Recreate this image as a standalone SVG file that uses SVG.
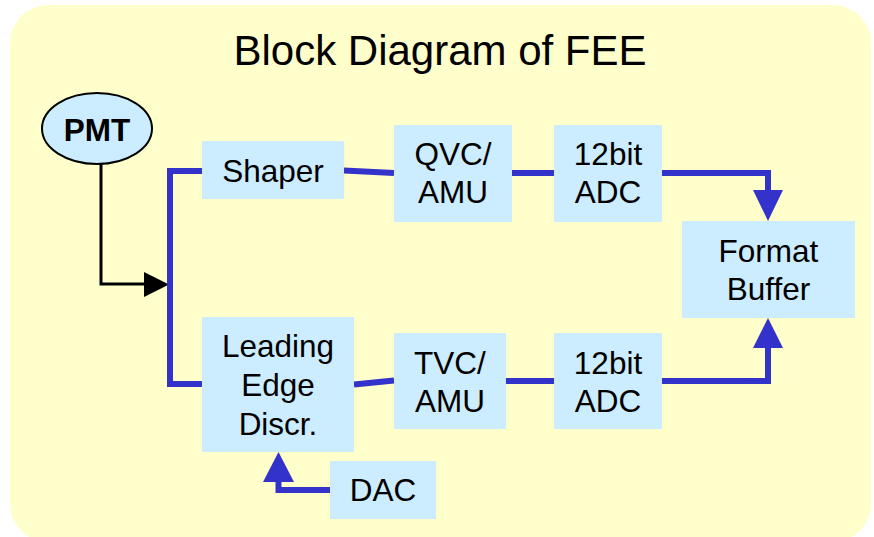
<svg xmlns="http://www.w3.org/2000/svg" width="874" height="537" viewBox="0 0 874 537">
<style>
  .box { fill: #CCECFF; stroke: none; }
  .lbl { font-family: "Liberation Sans", Arial, sans-serif; font-size: 31.5px; fill: #000; text-anchor: middle; }
  .title { font-family: "Liberation Sans", Arial, sans-serif; font-size: 42px; fill: #000; text-anchor: middle; }
  .bus { fill: none; stroke: #3333CC; stroke-width: 6; stroke-linejoin: miter; }
  .head { fill: #3333CC; stroke: none; }
  .blk { fill: none; stroke: #000; stroke-width: 3; }
</style>
<rect x="10" y="5" width="861" height="537" rx="38" ry="38" fill="#FFFFCC"/>
<text class="title" x="440" y="65">Block Diagram of FEE</text>

<g id="connectors">
  <path class="blk" d="M101,164 V284 H146"/>
  <polygon points="144,272 169,284.5 144,297" fill="#000"/>
  <path class="bus" d="M202,171 H170 V384 H202"/>
  <line class="bus" x1="344" y1="170.5" x2="394" y2="173"/>
  <line class="bus" x1="512" y1="173" x2="554" y2="173"/>
  <path class="bus" d="M662,173 H768 V192"/>
  <polygon class="head" points="753,190 783,190 768,221"/>
  <path class="bus" d="M662,381 H768 V346"/>
  <polygon class="head" points="753,348 783,348 768,318"/>
  <line class="bus" x1="354" y1="384.5" x2="394" y2="380.5"/>
  <line class="bus" x1="506" y1="381" x2="554" y2="381"/>
  <path class="bus" d="M330,490 H278.5 V480"/>
  <polygon class="head" points="263,482 294,482 278.5,452"/>
</g>

<g id="pmt">
  <ellipse cx="97" cy="128.5" rx="55" ry="35.5" fill="#CCECFF" stroke="#000" stroke-width="2"/>
  <text class="lbl" x="97" y="141" font-weight="bold">PMT</text>
</g>
<g id="shaper">
  <rect class="box" x="202" y="141" width="142" height="58"/>
  <text class="lbl" x="273" y="182">Shaper</text>
</g>
<g id="qvc">
  <rect class="box" x="394" y="125" width="118" height="97"/>
  <text class="lbl" x="453" y="165">QVC/</text>
  <text class="lbl" x="453" y="203">AMU</text>
</g>
<g id="adc-top">
  <rect class="box" x="554" y="125" width="108" height="97"/>
  <text class="lbl" x="608" y="165">12bit</text>
  <text class="lbl" x="608" y="203">ADC</text>
</g>
<g id="format-buffer">
  <rect class="box" x="682" y="221" width="173" height="97"/>
  <text class="lbl" x="768.5" y="262">Format</text>
  <text class="lbl" x="768.5" y="300">Buffer</text>
</g>
<g id="leading-edge">
  <rect class="box" x="202" y="317" width="152" height="135"/>
  <text class="lbl" x="278" y="357">Leading</text>
  <text class="lbl" x="278" y="396">Edge</text>
  <text class="lbl" x="278" y="435">Discr.</text>
</g>
<g id="tvc">
  <rect class="box" x="394" y="333" width="112" height="96"/>
  <text class="lbl" x="450" y="374">TVC/</text>
  <text class="lbl" x="450" y="412">AMU</text>
</g>
<g id="adc-bottom">
  <rect class="box" x="554" y="333" width="108" height="96"/>
  <text class="lbl" x="608" y="374">12bit</text>
  <text class="lbl" x="608" y="412">ADC</text>
</g>
<g id="dac">
  <rect class="box" x="330" y="461" width="106" height="58"/>
  <text class="lbl" x="383" y="501">DAC</text>
</g>
</svg>
